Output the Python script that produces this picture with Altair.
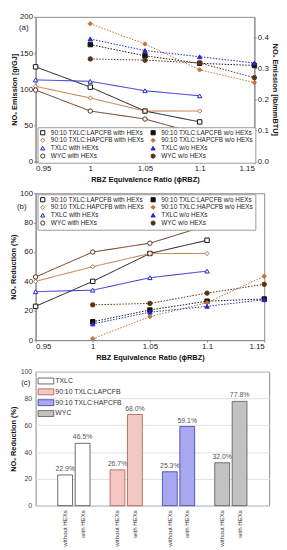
import altair as alt
import pandas as pd

FONT = "Liberation Sans"

# ---------------- data ----------------
PHI_WITH = [0.95, 1.0, 1.05, 1.1]
PHI_WO = [1.0, 1.05, 1.1, 1.15]

BLENDS = ["90:10 TXLC:LAPCFB", "90:10 TXLC:HAPCFB", "TXLC", "WYC"]
BLEND_COLORS = ["#111111", "#c2723c", "#2626d2", "#5a3216"]
BLEND_SHAPES = ["square", "diamond", "triangle-up", "circle"]

# (a) NOx emission with HEXs [g/GJ] (left axis)
EM_LAP_WITH = [131, 103, 70, 55]
EM_HAP_WITH = [104, 88, 70, 70]
EM_TXLC_WITH = [113, 111, 98, 91]
EM_WYC_WITH = [99, 70, 59, 38]
# (a) NOx emission without HEXs [lb/mmBTU] (right axis)
EM_LAP_WO = [0.376, 0.340, 0.316, 0.309]
EM_HAP_WO = [0.443, 0.378, 0.295, 0.254]
EM_TXLC_WO = [0.394, 0.357, 0.337, 0.317]
EM_WYC_WO = [0.330, 0.326, 0.317, 0.270]

# (b) NOx reduction [%]
RED_LAP_WITH = [23, 40, 59, 68]
RED_HAP_WITH = [40, 50, 59, 59]
RED_TXLC_WITH = [33, 34, 42.5, 47]
RED_WYC_WITH = [43, 60, 66, 78]
RED_LAP_WO = [12.5, 20.5, 26.5, 28]
RED_HAP_WO = [1, 16, 25.5, 43.5]
RED_TXLC_WO = [11, 19, 23, 27.5]
RED_WYC_WO = [24, 25, 32, 38]

# (c) NOx reduction bars [%]
BAR_GROUPS = ["TXLC", "90:10 TXLC:LAPCFB", "90:10 TXLC:HAPCFB", "WYC"]
BAR_WITHOUT = [22.9, 26.7, 25.3, 32.0]
BAR_WITH = [46.5, 68.0, 59.1, 77.8]
CONDS = ["without HEXs", "with HEXs"]
BAR_FILLS = ["#ffffff", "#f4c8c2", "#a8a8f0", "#c2c2c2"]
BAR_STROKES = ["#444444", "#b0564c", "#3838b4", "#555555"]

# legend order: first column "with HEXs", second column "w/o HEXs"
SERIES = [b + " with HEXs" for b in BLENDS] + [b + " w/o HEXs" for b in BLENDS]
SER_COLORS = BLEND_COLORS + BLEND_COLORS
SER_SHAPES = BLEND_SHAPES + BLEND_SHAPES
SER_FILLS = ["white"] * 4 + BLEND_COLORS


def long_frame(with_lists, wo_lists):
    rows = []
    for b, vw, vo in zip(BLENDS, with_lists, wo_lists):
        for p, v in zip(PHI_WITH, vw):
            rows.append({"series": b + " with HEXs", "phi": p, "val": v, "kind": "with"})
        for p, v in zip(PHI_WO, vo):
            rows.append({"series": b + " w/o HEXs", "phi": p, "val": v, "kind": "wo"})
    return pd.DataFrame(rows)


df_a = long_frame([EM_LAP_WITH, EM_HAP_WITH, EM_TXLC_WITH, EM_WYC_WITH],
                  [EM_LAP_WO, EM_HAP_WO, EM_TXLC_WO, EM_WYC_WO])
df_b = long_frame([RED_LAP_WITH, RED_HAP_WITH, RED_TXLC_WITH, RED_WYC_WITH],
                  [RED_LAP_WO, RED_HAP_WO, RED_TXLC_WO, RED_WYC_WO])

color_scale = alt.Scale(domain=SERIES, range=SER_COLORS)
shape_scale = alt.Scale(domain=SERIES, range=SER_SHAPES)
fill_scale = alt.Scale(domain=SERIES, range=SER_FILLS)

X_TICKS = [0.95, 1.0, 1.05, 1.1, 1.15]
x_title = "RBZ Equivalence Ratio (\u03d5RBZ)"

axis_common = dict(labelFont=FONT, titleFont=FONT, labelFontSize=8, titleFontSize=7.5,
                   titleFontWeight="bold", labelColor="#222", titleColor="#111",
                   domainColor="#888", tickColor="#888", tickSize=2, labelPadding=1,
                   grid=False)


def x_enc():
    return alt.X("phi:Q", scale=alt.Scale(domain=[0.95, 1.15], nice=False, zero=False),
                 axis=alt.Axis(values=X_TICKS, format="~g", title=x_title, titlePadding=3,
                               **axis_common))


def line_legend(y_pos):
    return alt.Legend(title=None, orient="none", legendX=2, legendY=y_pos, columns=2,
                      labelFont=FONT, labelFontSize=6.5, labelColor="#222", symbolSize=18,
                      symbolStrokeWidth=1, rowPadding=-1.5, columnPadding=4, padding=2,
                      strokeColor="#9a9a9a", fillColor="white", labelOffset=5,
                      labelLimit=300)


def series_layers(df, kind, y, leg, dash):
    base = alt.Chart(df).transform_filter(alt.datum.kind == kind)
    line = base.mark_line(strokeWidth=1, strokeDash=dash).encode(
        x=x_enc(), y=y,
        color=alt.Color("series:N", scale=color_scale, legend=leg),
        detail="series:N")
    pts = base.mark_point(size=20, strokeWidth=1, opacity=1, fillOpacity=1).encode(
        x=x_enc(), y=y,
        stroke=alt.Stroke("series:N", scale=color_scale, legend=leg),
        fill=alt.Fill("series:N", scale=fill_scale, legend=leg),
        shape=alt.Shape("series:N", scale=shape_scale, legend=leg))
    return line + pts


def panel_label(txt, px, py):
    return alt.Chart(pd.DataFrame({"t": [txt]})).mark_text(
        font=FONT, fontSize=8, color="#222").encode(
        text="t:N", x=alt.value(px), y=alt.value(py))


# ---------------- panel (a) ----------------
W_A, H_A = 222, 147
leg_a = line_legend(H_A - 35)
y_left = alt.Y("val:Q", scale=alt.Scale(domain=[0, 200], nice=False),
               axis=alt.Axis(values=[0, 50, 100, 150, 200], titlePadding=1,
                             title="NO\u2093 Emission [g/GJ]", **axis_common))
y_right = alt.Y("val:Q", scale=alt.Scale(domain=[0, 0.465], nice=False),
                axis=alt.Axis(values=[0, 0.1, 0.2, 0.3, 0.4], orient="right", titlePadding=2,
                              title="NO\u2093 Emission [lb/mmBTU]", **axis_common))
panel_a = alt.layer(series_layers(df_a, "with", y_left, leg_a, [1, 0]),
                    series_layers(df_a, "wo", y_right, leg_a, [1.5, 1.5]),
                    panel_label("(a)", -12, 11)).resolve_scale(
    y="independent").properties(width=W_A, height=H_A)

# ---------------- panel (b) ----------------
W_B, H_B = 232, 149
leg_b = line_legend(1)
y_b = alt.Y("val:Q", scale=alt.Scale(domain=[0, 100], nice=False),
            axis=alt.Axis(values=[0, 20, 40, 60, 80, 100], titlePadding=2,
                          title="NO\u2093 Reduction (%)", **axis_common))
panel_b = alt.layer(series_layers(df_b, "with", y_b, leg_b, [1, 0]),
                    series_layers(df_b, "wo", y_b, leg_b, [1.5, 1.5]),
                    panel_label("(b)", -14, 14)).properties(width=W_B, height=H_B)

# ---------------- panel (c) ----------------
rows = []
for g, v0, v1 in zip(BAR_GROUPS, BAR_WITHOUT, BAR_WITH):
    rows.append({"group": g, "cond": CONDS[0], "val": v0, "slot": g + "|" + CONDS[0]})
    rows.append({"group": g, "cond": CONDS[1], "val": v1, "slot": g + "|" + CONDS[1]})
df_c = pd.DataFrame(rows)

slots = ["pad_start"]
for i, g in enumerate(BAR_GROUPS):
    if i > 0:
        slots.append("gap%d" % i)
    slots += [g + "|" + c for c in CONDS]
slots.append("pad_end")

W_C, H_C = 237, 136
x_c = alt.X("slot:N", scale=alt.Scale(domain=slots, paddingInner=0.15, paddingOuter=0.27),
            axis=alt.Axis(title=None, labelAngle=270, ticks=False, domain=False,
                          labelExpr="indexof(datum.label, '|') > 0 ? split(datum.label, '|')[1] : ''",
                          labelFont=FONT, labelFontSize=6.2, labelColor="#333", labelPadding=4))
y_c = alt.Y("val:Q", scale=alt.Scale(domain=[0, 100], nice=False),
            axis=alt.Axis(values=[0, 20, 40, 60, 80, 100], title="NO\u2093 Reduction (%)",
                          labelFont=FONT, titleFont=FONT, labelFontSize=7, titleFontSize=7.5,
                          titleFontWeight="bold", labelColor="#444", titleColor="#111",
                          domain=False, ticks=False, grid=True, gridColor="#e2e2e2",
                          labelPadding=4, titlePadding=3))
leg_c = alt.Legend(title=None, orient="none", legendX=5, legendY=4,
                   symbolType="M-1.6,-0.6H1.6V0.6H-1.6Z", symbolSize=100,
                   symbolStrokeWidth=0.8, labelFont=FONT, labelFontSize=7,
                   labelColor="#333", rowPadding=-1, labelOffset=4, labelLimit=200)
bars = alt.Chart(df_c).mark_bar(strokeWidth=0.8).encode(
    x=x_c, y=y_c,
    fill=alt.Fill("group:N", scale=alt.Scale(domain=BAR_GROUPS, range=BAR_FILLS), legend=leg_c),
    stroke=alt.Stroke("group:N", scale=alt.Scale(domain=BAR_GROUPS, range=BAR_STROKES), legend=leg_c))
labels = alt.Chart(df_c).transform_calculate(
    lab="format(datum.val, '.1f') + '%'").mark_text(
    dy=-6, font=FONT, fontSize=7, color="#555").encode(x=x_c, y=y_c, text="lab:N")
panel_c = alt.layer(bars, labels, panel_label("(c)", -10, 12)).properties(width=W_C, height=H_C)

chart = alt.vconcat(panel_a, panel_b, panel_c, spacing=5).resolve_scale(
    stroke="independent", fill="independent", shape="independent", color="independent",
    x="independent", y="independent").configure(
    background="white", padding=0).configure_view(stroke="#8a8a8a", strokeWidth=1)

chart.save("out.html", embed_options={"renderer": "svg", "actions": False})
